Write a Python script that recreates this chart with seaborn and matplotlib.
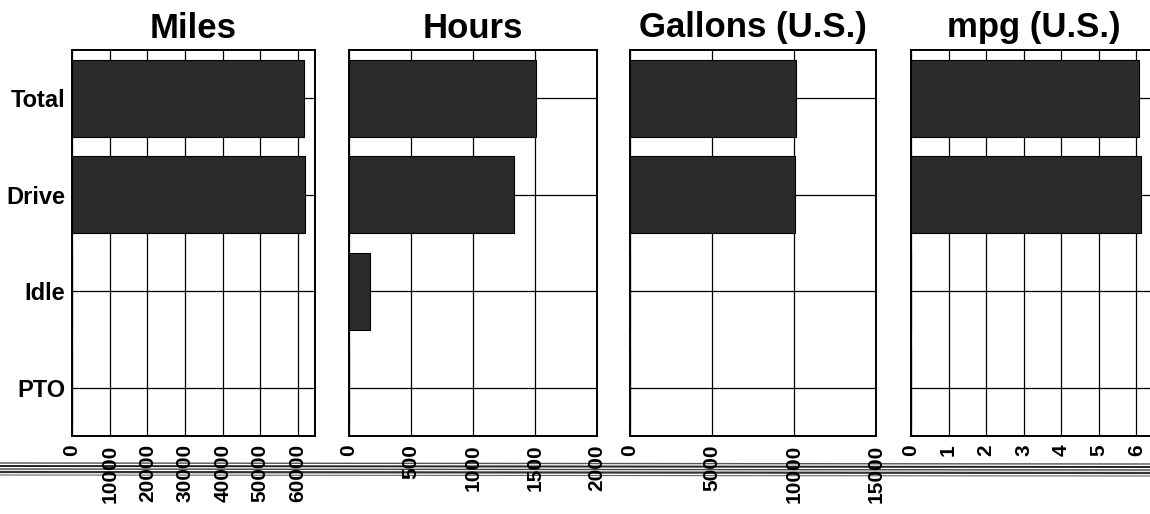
import matplotlib
matplotlib.use("Agg")
import matplotlib.pyplot as plt
from matplotlib.lines import Line2D
import seaborn as sns
import pandas as pd

# categories (top to bottom)
categories = ["Total", "Drive", "Idle", "PTO"]

# values
miles = [61700, 61800, 0, 0]
hours = [1505, 1333, 172, 0]
gallons = [10100, 10050, 0, 0]
mpg = [6.08, 6.13, 0, 0]

titles = ["Miles", "Hours", "Gallons (U.S.)", "mpg (U.S.)"]
x_limits = [64500, 2000, 15000, 6.55]
x_ticks = [
    [0, 10000, 20000, 30000, 40000, 50000, 60000],
    [0, 500, 1000, 1500, 2000],
    [0, 5000, 10000, 15000],
    [0, 1, 2, 3, 4, 5, 6],
]

sns.set_theme(style="white")
plt.rcParams["font.family"] = ["Liberation Sans", "DejaVu Sans"]
plt.rcParams["text.color"] = "black"
plt.rcParams["xtick.color"] = "black"
plt.rcParams["ytick.color"] = "black"

W, H = 1150, 514
fig = plt.figure(figsize=(W / 100, H / 100), dpi=100)
fig.patch.set_facecolor("white")

# panel boxes in pixels: left, right (top/bottom shared)
panel_px = [(72, 315), (349, 597), (630, 876), (911, 1157)]
top_px, bottom_px = 50, 436

for i, (vals, title, xmax, ticks) in enumerate(zip([miles, hours, gallons, mpg], titles, x_limits, x_ticks)):
    l, r = panel_px[i]
    ax = fig.add_axes([l / W, (H - bottom_px) / H, (r - l) / W, (bottom_px - top_px) / H])
    df = pd.DataFrame({"category": categories, "value": vals})
    sns.barplot(data=df, x="value", y="category", orient="h", ax=ax,
                color="#2b2b2b", edgecolor="#000000", linewidth=0.8,
                width=0.8, saturation=1, zorder=3)
    ax.set_xlim(0, xmax)
    ax.set_ylim(3.5, -0.5)
    ax.set_xticks(ticks)
    ax.set_xticklabels([str(t) for t in ticks], rotation=90, fontsize=15, fontweight="bold")
    ax.grid(True, color="black", linewidth=0.9, zorder=0)
    ax.set_axisbelow(True)
    ax.set_xlabel("")
    ax.set_ylabel("")
    ax.tick_params(axis="both", length=0)
    ax.tick_params(axis="x", pad=6)
    ax.set_yticks(range(len(categories)))
    if i == 0:
        ax.set_yticklabels(categories, fontsize=17, fontweight="bold")
        ax.tick_params(axis="y", pad=5)
    else:
        ax.set_yticklabels([])
    for s in ax.spines.values():
        s.set_visible(True)
        s.set_color("black")
        s.set_linewidth(1.4)
    ax.set_title(title, fontsize=25, fontweight="bold", pad=9)

# scanner streaks across the bottom
for y, lw, c in [(463, 1.0, "#555555"), (466, 1.4, "#222222"), (469, 1.0, "#444444"), (472, 1.6, "#333333"), (475, 0.8, "#666666")]:
    fig.add_artist(Line2D([0, 1], [1 - y / H, 1 - (y + 1) / H], transform=fig.transFigure,
                          color=c, linewidth=lw, zorder=-1))

fig.savefig("out.png", dpi=100)
